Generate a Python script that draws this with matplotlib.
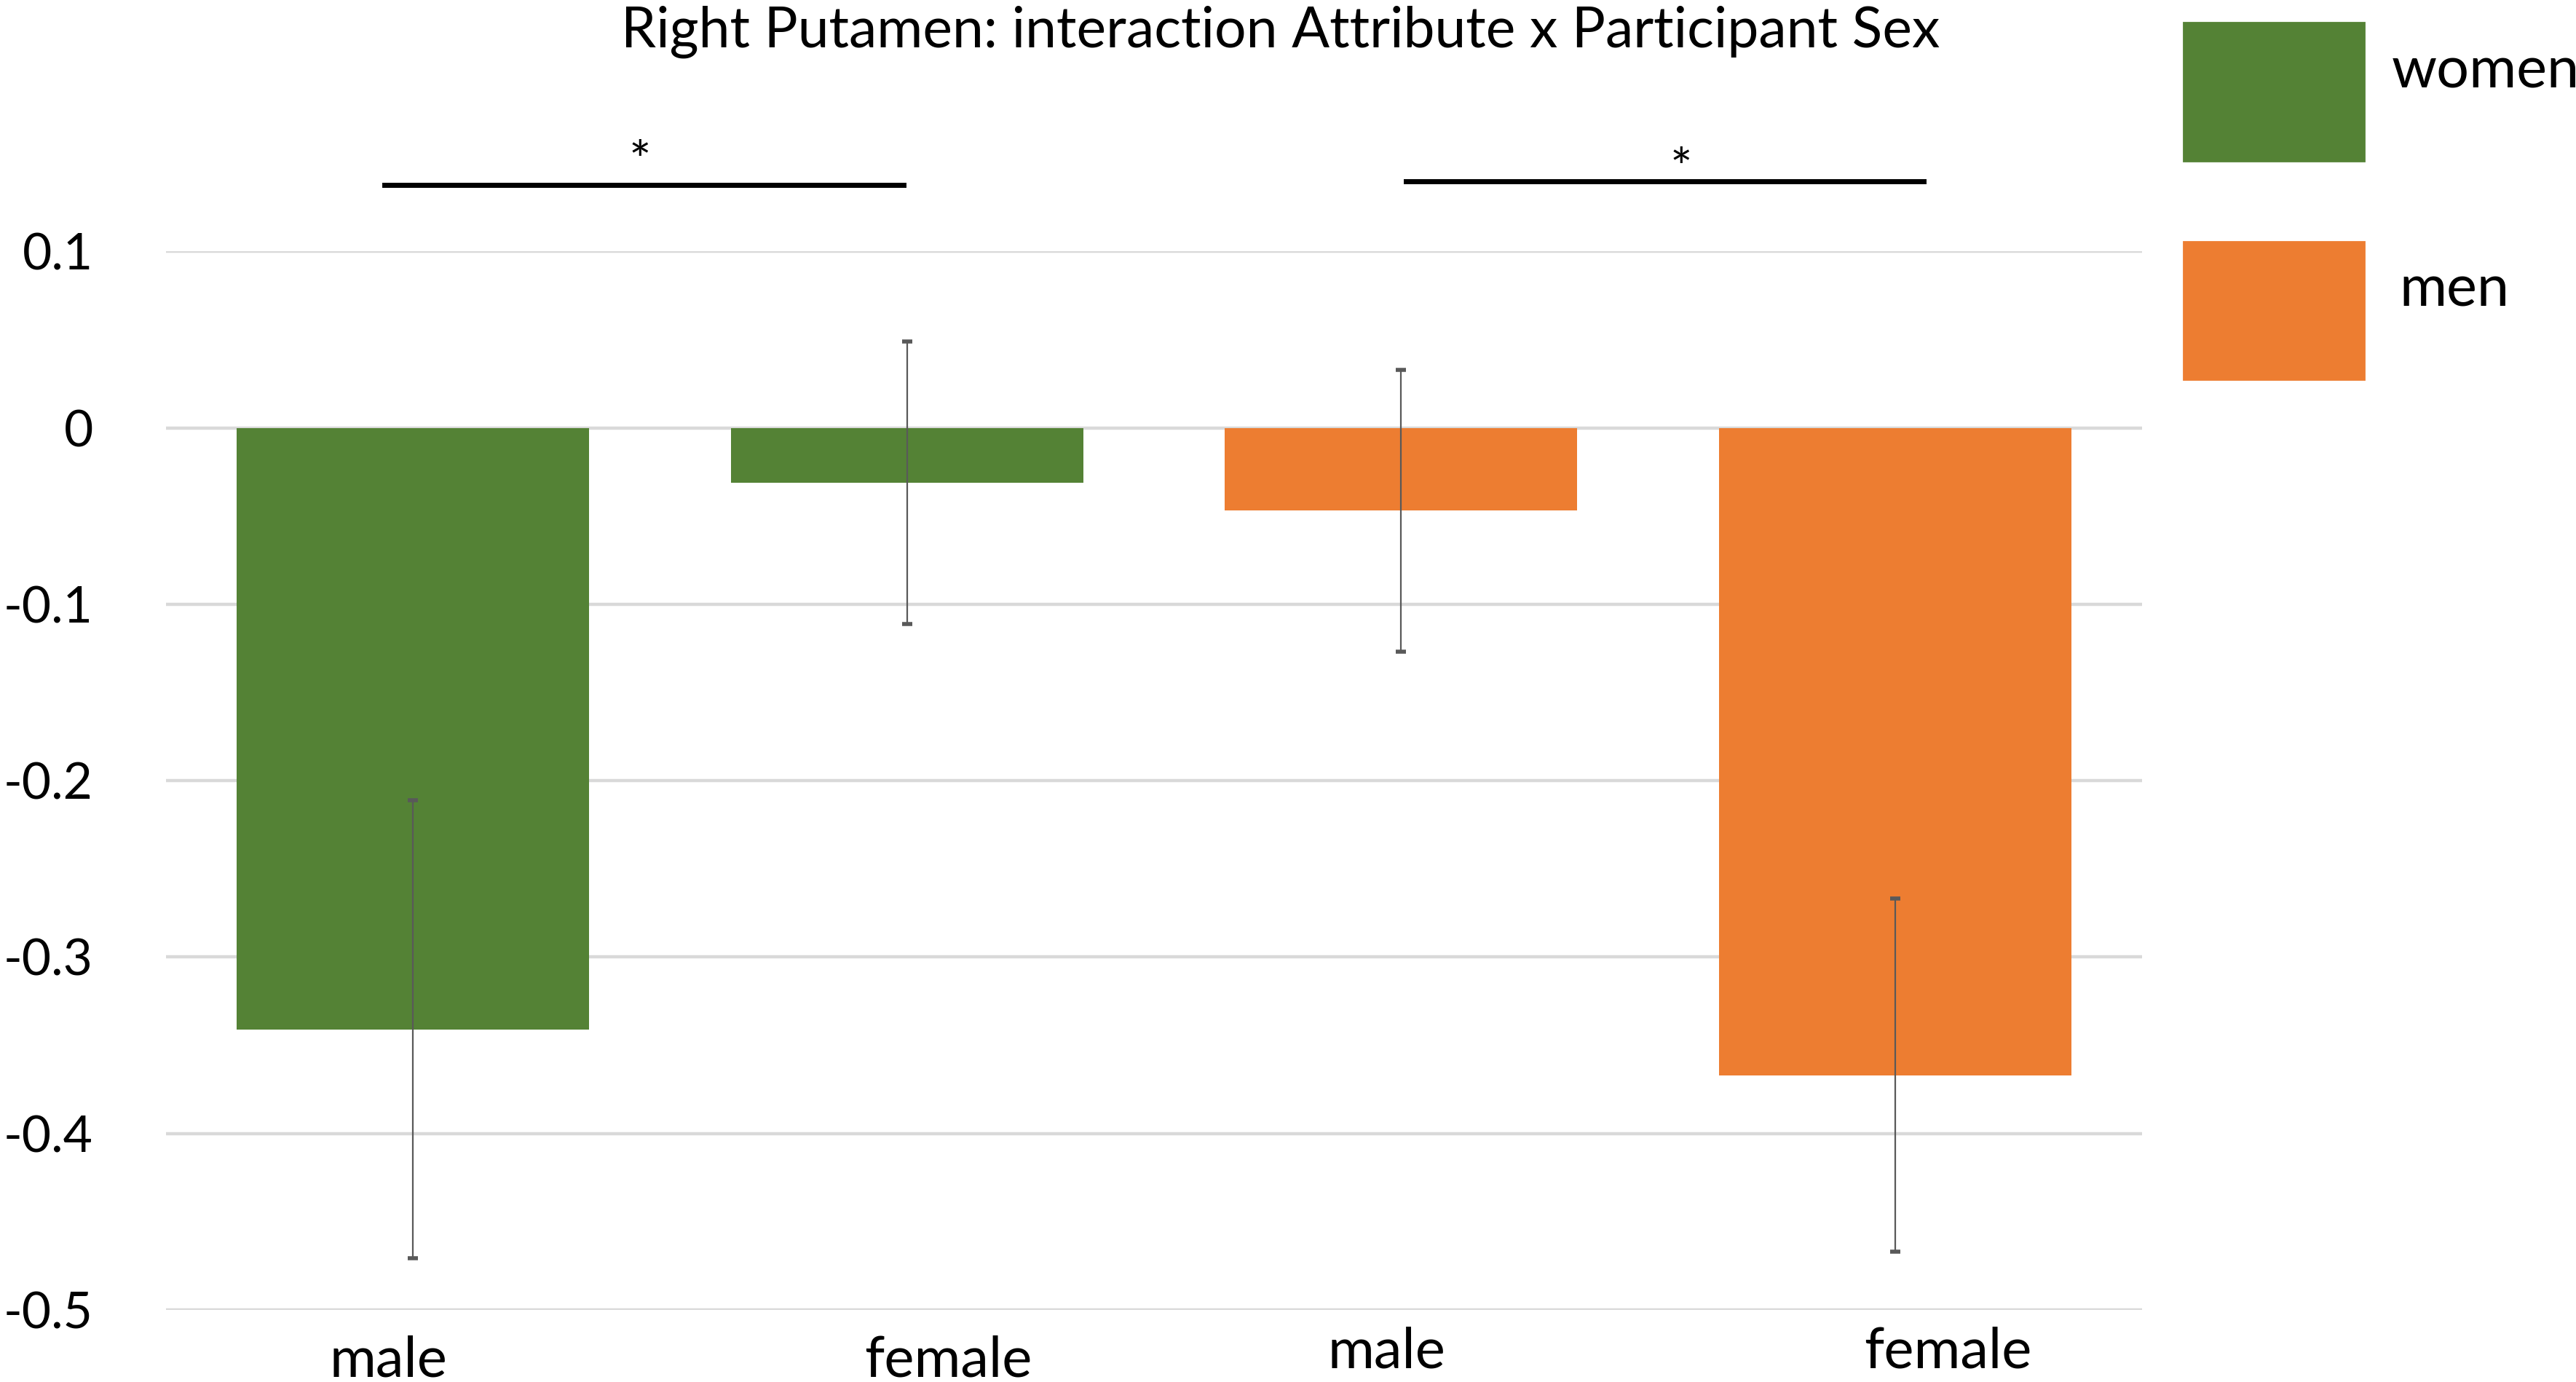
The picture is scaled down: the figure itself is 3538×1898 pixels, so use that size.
import matplotlib
matplotlib.use('Agg')
import matplotlib.pyplot as plt
from matplotlib.patches import Rectangle

plt.rcParams['font.family'] = ['Lato', 'DejaVu Sans']

# data
categories = ['male', 'female', 'male', 'female']
groups = ['women', 'women', 'men', 'men']
means = [-0.341, -0.031, -0.047, -0.367]
errors = [0.130, 0.080, 0.080, 0.100]
yticks = [0.1, 0, -0.1, -0.2, -0.3, -0.4, -0.5]
ytick_labels = ['0.1', '0', '-0.1', '-0.2', '-0.3', '-0.4', '-0.5']
legend_names = ['women', 'men']

colors = {'women': '#548235', 'men': '#ED7D31'}

fig = plt.figure(figsize=(17.69, 9.49), dpi=200)
ax = fig.add_axes([0.0644, 0.0523, 0.7672, 0.7657])

x = list(range(len(means)))
bar_colors = [colors[g] for g in groups]
ax.bar(x, means, width=0.713, color=bar_colors, zorder=2)
ax.errorbar(x, means, yerr=errors, fmt='none', ecolor='#595959',
            elinewidth=0.8, capsize=2.5, capthick=2.0, zorder=3)

ax.set_xlim(-0.5, 3.5)
ax.set_ylim(-0.5, 0.1)
ax.set_yticks(yticks)
ax.set_yticklabels(ytick_labels, fontsize=25)
ax.set_xticks([])
ax.tick_params(axis='y', length=0, pad=36)
ax.grid(axis='y', color='#D9D9D9', linewidth=1.6, zorder=0)
for s in ax.spines.values():
    s.set_visible(False)

# category labels (slightly offset as in the original)
label_x = [-0.05, 1.083, 1.97, 3.107]
label_y = [-0.529, -0.529, -0.524, -0.524]
for lx, ly, lab in zip(label_x, label_y, categories):
    ax.text(lx, ly, lab, ha='center', va='center', fontsize=28, clip_on=False)

# significance brackets
ax.plot([-0.057, 0.993], [0.1378, 0.1378], color='black', lw=2.5, clip_on=False)
ax.plot([2.01, 3.057], [0.1397, 0.1397], color='black', lw=2.5, clip_on=False)
ax.text(0.46, 0.150, '*', ha='center', va='center', fontsize=26, clip_on=False)
ax.text(2.567, 0.146, '*', ha='center', va='center', fontsize=26, clip_on=False)

fig.text(0.497, 0.977, 'Right Putamen: interaction Attribute x Participant Sex',
         ha='center', va='center', fontsize=27.7)

# legend drawn as big colour blocks
leg_y = [0.8835, 0.7253]
leg_tx = [0.9285, 0.9315]
leg_ty = [0.948, 0.790]
for name, y0, tx, ty in zip(legend_names, leg_y, leg_tx, leg_ty):
    fig.add_artist(Rectangle((0.8476, y0), 0.0702, 0.1, transform=fig.transFigure,
                             color=colors[name]))
    fig.text(tx, ty, name, ha='left', va='center', fontsize=28.5)

fig.savefig('out.png', dpi=200)
